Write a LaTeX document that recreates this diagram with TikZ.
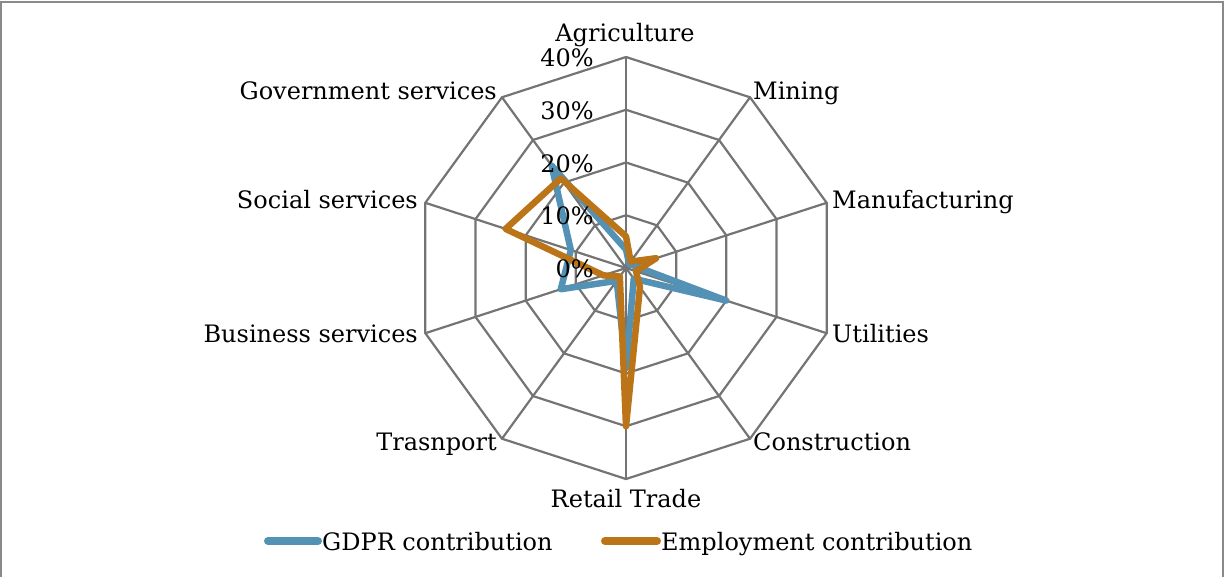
\documentclass[tikz,border=0pt]{standalone}
\usepackage{fontspec}
\setmainfont{DejaVu Serif}
\definecolor{gridc}{HTML}{747474}
\definecolor{framec}{HTML}{8A8A8A}
\definecolor{gdpr}{HTML}{5392B4}
\definecolor{empl}{HTML}{BB7518}
\begin{document}
\begin{tikzpicture}[x=1pt,y=-1pt,
  lbl/.style={font=\fontsize{24}{28}\selectfont, inner sep=0pt},
  gridline/.style={draw=gridc, line width=2.2pt, line join=miter},
  series/.style={line width=6.5pt, line join=round, line cap=round},
  legline/.style={line width=8pt, line cap=round}]
\useasboundingbox (0,0) rectangle (1225,576);
\draw[framec, line width=1.5pt] (1,577) -- (1,2) -- (1223,2) -- (1223,577);
\begin{scope}[shift={(626,268)}]
  \coordinate (c) at (0,0);
  \foreach \k in {0,...,9} { \coordinate (v\k) at ({-90+36*\k}:211); }
  \foreach \r in {1,...,4} {
    \draw[gridline] (-90:{52.75*\r})
      \foreach \k in {1,...,9} { -- ({-90+36*\k}:{52.75*\r}) } -- cycle;
  }
  \foreach \k in {0,...,9} { \draw[gridline] (c) -- (v\k); }
  % GDPR contribution
  \def\s{5.275}
  \draw[series, gdpr] (-90:{3.5*\s}) -- (-54:{1*\s}) -- (-18:{1.5*\s}) -- (18:{20*\s})
    -- (54:{2.5*\s}) -- (90:{19*\s}) -- (126:{3*\s}) -- (162:{13*\s})
    -- (198:{11*\s}) -- (234:{24*\s}) -- cycle;
  % Employment contribution
  \draw[series, empl] (-90:{6*\s}) -- (-54:{1.5*\s}) -- (-18:{6*\s}) -- (18:{2*\s})
    -- (54:{4.5*\s}) -- (90:{30*\s}) -- (126:{2*\s}) -- (162:{4.5*\s})
    -- (198:{24*\s}) -- (234:{21*\s}) -- cycle;
\end{scope}
% axis value labels
\node[lbl, anchor=base east] (p40) at (594,66.5) {40\%};
\node[lbl, anchor=base east] (p30) at (594,119) {30\%};
\node[lbl, anchor=base east] (p20) at (594,172) {20\%};
\node[lbl, anchor=base east] (p10) at (594,224.5) {10\%};
\node[lbl, anchor=base east] (p0) at (594,277) {0\%};
% category labels
\node[lbl, anchor=base] (agr) at (625,41) {Agriculture};
\node[lbl, anchor=base west] (min) at (753,99) {Mining};
\node[lbl, anchor=base west] (man) at (832,208) {Manufacturing};
\node[lbl, anchor=base west] (uti) at (832,342) {Utilities};
\node[lbl, anchor=base west] (con) at (753,450) {Construction};
\node[lbl, anchor=base] (ret) at (626,507) {Retail Trade};
\node[lbl, anchor=base east] (tra) at (497,450) {Trasnport};
\node[lbl, anchor=base east] (bus) at (418,342) {Business services};
\node[lbl, anchor=base east] (soc) at (418,208) {Social services};
\node[lbl, anchor=base east] (gov) at (497,99) {Government services};
% legend
\coordinate (g1) at (268,541);
\coordinate (g2) at (318,541);
\draw[legline, gdpr] (g1) -- (g2);
\node[lbl, anchor=base west] (gl) at (322,550) {GDPR contribution};
\coordinate (e1) at (605,541);
\coordinate (e2) at (657,541);
\draw[legline, empl] (e1) -- (e2);
\node[lbl, anchor=base west] (el) at (661,550) {Employment contribution};
\end{tikzpicture}
\end{document}
